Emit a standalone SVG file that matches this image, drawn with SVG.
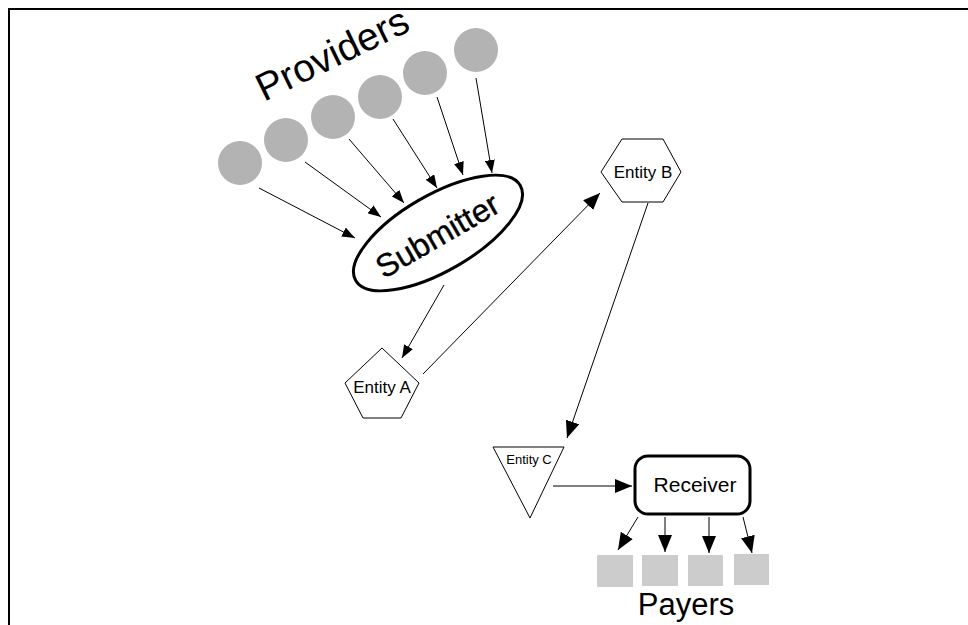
<svg xmlns="http://www.w3.org/2000/svg" width="968" height="625" viewBox="0 0 968 625">
<defs>
<marker id="ah" markerUnits="userSpaceOnUse" markerWidth="13" markerHeight="10" refX="13" refY="5" orient="auto"><path d="M0,0 L13,5 L0,10 z" fill="#000"/></marker>
<marker id="ahL" markerUnits="userSpaceOnUse" markerWidth="17" markerHeight="14" refX="17" refY="7" orient="auto"><path d="M0,0 L17,7 L0,14 z" fill="#000"/></marker>
<style>
.t{font-family:"Liberation Sans",Arial,sans-serif;fill:#000}
.prov{fill:#b3b3b3}
.payer{fill:#cccccc}
.ln{stroke:#000;stroke-width:1;fill:none}
.sh{fill:#fff;stroke:#000;stroke-width:1}
</style>
</defs>
<rect width="968" height="625" fill="#fff"/>
<path d="M9,625 V9 H968" fill="none" stroke="#000" stroke-width="2"/>
<g id="providers">
<circle class="prov" cx="240" cy="163" r="22"/>
<circle class="prov" cx="286" cy="140" r="22"/>
<circle class="prov" cx="333" cy="117" r="22"/>
<circle class="prov" cx="380" cy="97" r="22"/>
<circle class="prov" cx="425" cy="73" r="22"/>
<circle class="prov" cx="476" cy="50" r="22"/>
<text class="t" font-size="39" text-anchor="middle" transform="translate(338,66) rotate(-26)">Providers</text>
</g>
<g id="submitter">
<ellipse cx="438" cy="233" rx="95" ry="38" transform="rotate(-30 438 233)" fill="#fff" stroke="#000" stroke-width="3"/>
<text class="t" font-size="32" text-anchor="middle" stroke="#000" stroke-width="0.4" transform="translate(443,245) rotate(-30)">Submitter</text>
</g>
<g id="entityA">
<polygon class="sh" points="382,348 419,383 401,418 363,418 345,383"/>
<text class="t" font-size="17" text-anchor="middle" x="382" y="393">Entity A</text>
</g>
<g id="entityB">
<polygon class="sh" points="601,172 622,139 663,139 681,172 663,202 622,202"/>
<text class="t" font-size="17" text-anchor="middle" x="643" y="178">Entity B</text>
</g>
<g id="entityC">
<polygon class="sh" points="493,447 564,447 530,518"/>
<text class="t" font-size="13" text-anchor="middle" x="529" y="464">Entity C</text>
</g>
<g id="receiver">
<rect x="635" y="456" width="115" height="58" rx="13" fill="#fff" stroke="#000" stroke-width="3"/>
<text class="t" font-size="21" text-anchor="middle" x="695" y="492">Receiver</text>
</g>
<g id="payers">
<rect class="payer" x="597" y="555" width="36" height="32"/>
<rect class="payer" x="642" y="555" width="36" height="31"/>
<rect class="payer" x="688" y="555" width="35" height="31"/>
<rect class="payer" x="734" y="554" width="35" height="31"/>
<text class="t" font-size="31" text-anchor="middle" x="686" y="615">Payers</text>
</g>
<g id="connectors">
<line class="ln" x1="259" y1="188" x2="355" y2="238" marker-end="url(#ah)"/>
<line class="ln" x1="305" y1="162" x2="381" y2="217" marker-end="url(#ah)"/>
<line class="ln" x1="349" y1="139" x2="404" y2="203" marker-end="url(#ah)"/>
<line class="ln" x1="393" y1="119" x2="437" y2="188" marker-end="url(#ah)"/>
<line class="ln" x1="437" y1="97" x2="463" y2="175" marker-end="url(#ah)"/>
<line class="ln" x1="476" y1="78" x2="492" y2="173" marker-end="url(#ah)"/>
<line class="ln" x1="444" y1="285" x2="402" y2="358" marker-end="url(#ah)"/>
<line class="ln" x1="423" y1="374" x2="600" y2="193" marker-end="url(#ahL)"/>
<line class="ln" x1="648" y1="203" x2="567" y2="438" marker-end="url(#ahL)"/>
<line class="ln" x1="553" y1="486" x2="632" y2="486" marker-end="url(#ahL)"/>
<line class="ln" x1="638" y1="517" x2="618" y2="550" marker-end="url(#ahL)"/>
<line class="ln" x1="665" y1="517" x2="665" y2="552" marker-end="url(#ahL)"/>
<line class="ln" x1="709" y1="517" x2="709" y2="553" marker-end="url(#ahL)"/>
<line class="ln" x1="743" y1="517" x2="752" y2="553" marker-end="url(#ahL)"/>
</g>
</svg>
